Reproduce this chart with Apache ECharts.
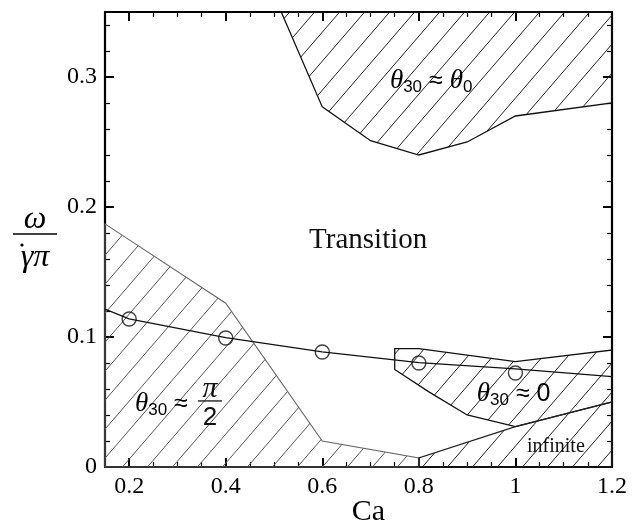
<!DOCTYPE html>
<html>
<head>
<meta charset="utf-8">
<script src="https://cdn.jsdelivr.net/npm/echarts@6/dist/echarts.min.js"></script>
<style>
  html, body { margin: 0; padding: 0; background: #fff; }
  #chart { width: 640px; height: 524px; }
</style>
</head>
<body>
<div id="chart"></div>
<script>
// phase regions, points are [Ca, omega / (gammaDot * pi)]
const topRegion = [[0.515, 0.35], [0.6, 0.277], [0.7, 0.251], [0.8, 0.24], [0.9, 0.25], [1.0, 0.27], [1.2, 0.28], [1.2, 0.35]];
const leftRegion = [[0.15, 0], [0.15, 0.187], [0.4, 0.126], [0.6, 0.02], [0.8, 0.007], [0.8, 0]];
const zeroRegion = [[0.75, 0.091], [0.8, 0.091], [1.0, 0.081], [1.2, 0.09], [1.2, 0.05], [1.0, 0.031], [0.9, 0.04], [0.82, 0.058], [0.75, 0.075]];
const infiniteRegion = [[0.8, 0], [0.8, 0.007], [1.0, 0.031], [1.2, 0.05], [1.2, 0]];

// fitted curve and simulation points
const fitCa = [0.15, 0.2, 0.4, 0.6, 0.8, 1.0, 1.2];
const fitOmega = [0.1215, 0.114, 0.0995, 0.0885, 0.0803, 0.0755, 0.0695];
const pointCa = [0.2, 0.4, 0.6, 0.8, 1.0];
const pointOmega = [0.1138, 0.0992, 0.0885, 0.080, 0.0723];

// ticks
const caMajor = [0.2, 0.4, 0.6, 0.8, 1, 1.2];
const caMinor = [0.25, 0.3, 0.35, 0.45, 0.5, 0.55, 0.65, 0.7, 0.75, 0.85, 0.9, 0.95, 1.05, 1.1, 1.15];
const omegaMajor = [0, 0.1, 0.2, 0.3];
const omegaMinor = [0.02, 0.04, 0.06, 0.08, 0.12, 0.14, 0.16, 0.18, 0.22, 0.24, 0.26, 0.28, 0.32, 0.34];

// annotation anchors (data space)
const labelTransition = [0.695, 0.1746];
const labelTheta0 = [0.74, 0.297];
const labelHalfPi = [0.212, 0.0485];
const labelZero = [0.92, 0.056];
const labelInfinite = [1.024, 0.0154];

const SERIF = 'Liberation Serif';
const SANS = 'Liberation Sans';

// diagonal hatch tile
function makeHatch(w, h, color, lw) {
  const c = document.createElement('canvas');
  c.width = w; c.height = h;
  const g = c.getContext('2d');
  g.strokeStyle = color;
  g.lineWidth = lw;
  g.beginPath();
  for (let k = -1; k <= 1; k++) {
    g.moveTo(k * w - w, 2 * h);
    g.lineTo((k + 1) * w + w, -h);
  }
  g.stroke();
  return c;
}
const hatchDark = { image: makeHatch(25, 29, '#222', 1), repeat: 'repeat' };
const hatchGrey = { image: makeHatch(25, 29, '#555', 1), repeat: 'repeat' };

function regionSeries(points, fill, stroke, lw) {
  return {
    type: 'custom',
    coordinateSystem: 'cartesian2d',
    silent: true,
    z: 2,
    data: [[0.5, 0.1]],
    renderItem: function (params, api) {
      return {
        type: 'polygon',
        shape: { points: points.map(p => api.coord(p)) },
        style: { fill: fill, stroke: stroke, lineWidth: lw }
      };
    }
  };
}

const thetaRich = {
  t: { fontFamily: SERIF, fontStyle: 'italic', fontSize: 27, lineHeight: 30, color: '#111' },
  s: { fontFamily: SANS, fontSize: 17, lineHeight: 12, verticalAlign: 'bottom', color: '#111' },
  o: { fontFamily: SANS, fontSize: 25, lineHeight: 30, color: '#111' }
};

const annotationSeries = {
  type: 'custom',
  coordinateSystem: 'cartesian2d',
  silent: true,
  z: 10,
  data: [[0.5, 0.1]],
  renderItem: function (params, api) {
    const pT = api.coord(labelTransition);
    const p0 = api.coord(labelTheta0);
    const pH = api.coord(labelHalfPi);
    const pZ = api.coord(labelZero);
    const pI = api.coord(labelInfinite);
    return {
      type: 'group',
      children: [
        { type: 'text', x: pT[0], y: pT[1], style: { text: 'Transition', font: '29px "' + SERIF + '"', fill: '#111', align: 'center', verticalAlign: 'middle' } },
        { type: 'text', x: p0[0], y: p0[1], style: { text: '{t|θ}{s|30}{o| ≈ }{t|θ}{s|0}', rich: thetaRich, align: 'left', verticalAlign: 'middle' } },
        { type: 'text', x: pZ[0], y: pZ[1], style: { text: '{t|θ}{s|30}{o| ≈ 0}', rich: thetaRich, align: 'left', verticalAlign: 'middle' } },
        { type: 'text', x: pH[0], y: pH[1], style: { text: '{t|θ}{s|30}{o| ≈}', rich: thetaRich, align: 'left', verticalAlign: 'middle' } },
        { type: 'text', x: pH[0] + 75, y: pH[1] - 15, style: { text: 'π', font: 'italic 30px "' + SERIF + '"', fill: '#111', align: 'center', verticalAlign: 'middle' } },
        { type: 'line', shape: { x1: pH[0] + 63, y1: pH[1] - 3, x2: pH[0] + 87, y2: pH[1] - 3 }, style: { stroke: '#111', lineWidth: 1.3 } },
        { type: 'text', x: pH[0] + 75, y: pH[1] + 14, style: { text: '2', font: '26px "' + SANS + '"', fill: '#111', align: 'center', verticalAlign: 'middle' } },
        { type: 'text', x: pI[0], y: pI[1], style: { text: 'infinite', font: '20px "' + SERIF + '"', fill: '#111', align: 'left', verticalAlign: 'middle' } }
      ]
    };
  }
};

function xAxisDef(pos, ticks, len, showLine, labels) {
  return {
    type: 'value', position: pos, min: 0.15, max: 1.2,
    name: labels ? 'Ca' : '',
    nameLocation: 'middle', nameGap: 30, nameMoveOverlap: false,
    nameTextStyle: { fontFamily: SERIF, fontSize: 30, color: '#000', padding: [0, 0, 0, 20] },
    axisLine: { show: showLine, onZero: false, lineStyle: { color: '#000', width: 2.2 } },
    axisTick: { show: true, inside: true, length: len, customValues: ticks, lineStyle: { color: '#000', width: len > 6 ? 2 : 1.2 } },
    axisLabel: labels ? { show: true, customValues: caMajor, margin: 8, fontFamily: SERIF, fontSize: 24, color: '#000' } : { show: false },
    splitLine: { show: false }
  };
}
function yAxisDef(pos, ticks, len, showLine, labels) {
  return {
    type: 'value', position: pos, min: 0, max: 0.35,
    axisLine: { show: showLine, onZero: false, lineStyle: { color: '#000', width: 2.2 } },
    axisTick: { show: true, inside: true, length: len, customValues: ticks, lineStyle: { color: '#000', width: len > 6 ? 2 : 1.2 } },
    axisLabel: labels ? { show: true, customValues: omegaMajor, margin: 8, fontFamily: SERIF, fontSize: 24, color: '#000' } : { show: false },
    splitLine: { show: false }
  };
}

const chart = echarts.init(document.getElementById('chart'), null, { renderer: 'canvas' });
chart.setOption({
  animation: false,
  backgroundColor: '#fff',
  grid: { left: 105, right: 28, top: 12, bottom: 57, containLabel: false, outerBoundsMode: 'none' },
  xAxis: [
    xAxisDef('bottom', caMajor, 9, true, true),
    xAxisDef('bottom', caMinor, 5, false, false),
    xAxisDef('top', caMajor, 9, true, false),
    xAxisDef('top', caMinor, 5, false, false)
  ],
  yAxis: [
    yAxisDef('left', omegaMajor, 9, true, true),
    yAxisDef('left', omegaMinor, 5, false, false),
    yAxisDef('right', omegaMajor, 9, true, false),
    yAxisDef('right', omegaMinor, 5, false, false)
  ],
  graphic: [
    {
      type: 'group', x: 35, y: 234,
      children: [
        { type: 'text', x: 0, y: -14, style: { text: 'ω', font: 'italic 32px "' + SERIF + '"', fill: '#000', align: 'center', verticalAlign: 'middle' } },
        { type: 'line', shape: { x1: -22, y1: 0, x2: 22, y2: 0 }, style: { stroke: '#000', lineWidth: 1.5 } },
        { type: 'text', x: 0, y: 24, style: { text: 'γπ', font: 'italic 32px "' + SERIF + '"', fill: '#000', align: 'center', verticalAlign: 'middle' } },
        { type: 'circle', shape: { cx: -13, cy: 11, r: 1.6 }, style: { fill: '#000' } }
      ]
    }
  ],
  series: [
    regionSeries(topRegion, hatchDark, '#111', 1.3),
    regionSeries(leftRegion, hatchGrey, '#666', 1.1),
    regionSeries(zeroRegion, hatchDark, '#111', 1.3),
    regionSeries(infiniteRegion, hatchDark, '#222', 1.2),
    {
      type: 'line',
      data: fitCa.map((c, i) => [c, fitOmega[i]]),
      showSymbol: false,
      lineStyle: { color: '#111', width: 1.3 },
      silent: true,
      z: 5
    },
    {
      type: 'scatter',
      data: pointCa.map((c, i) => [c, pointOmega[i]]),
      symbol: 'circle',
      symbolSize: 14,
      itemStyle: { color: 'rgba(0,0,0,0)', borderColor: '#111', borderWidth: 1.4 },
      silent: true,
      z: 6
    },
    annotationSeries
  ]
});
</script>
</body>
</html>
